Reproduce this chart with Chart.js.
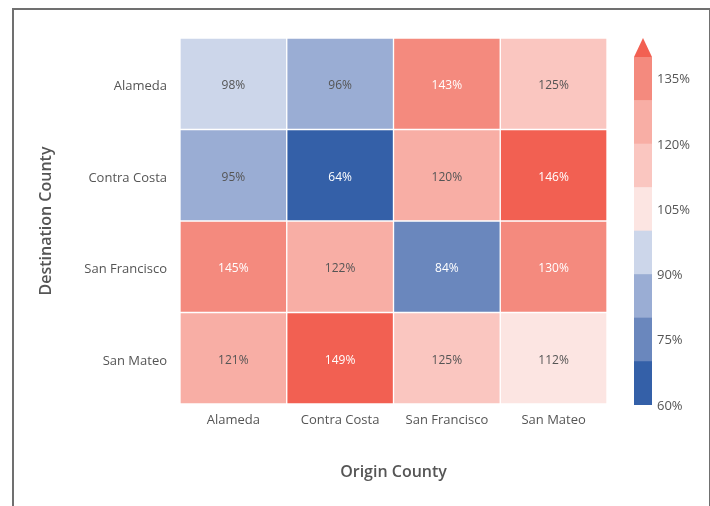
<!DOCTYPE html>
<html>
<head>
<meta charset="utf-8">
<script src="https://cdn.jsdelivr.net/npm/chart.js@4"></script>
<style>
  body { margin: 0; background: #fff; }
  #wrap { position: relative; width: 710px; height: 506px; overflow: hidden; }
  #heat { position: absolute; left: 0; top: 0; }
  #scale { position: absolute; left: 620px; top: 0; }
  #frame { position: absolute; left: 12px; top: 8px; width: 695px; height: 520px;
           border: 2px solid #707070; pointer-events: none; }
</style>
</head>
<body>
<div id="wrap">
  <canvas id="heat" width="710" height="506"></canvas>
  <canvas id="scale" width="90" height="506"></canvas>
  <div id="frame"></div>
</div>
<script>
// origin counties across, destination counties down
const origins = ['Alameda', 'Contra Costa', 'San Francisco', 'San Mateo'];
const destinations = ['Alameda', 'Contra Costa', 'San Francisco', 'San Mateo'];

// trip ratio (%) per destination row
const values = [
  [98, 96, 143, 125],
  [95, 64, 120, 146],
  [145, 122, 84, 130],
  [121, 149, 125, 112]
];

// colour class of each cell (index into palette)
const cellBins = [
  [3, 2, 7, 5],
  [2, 0, 6, 8],
  [7, 6, 1, 7],
  [6, 8, 5, 4]
];

// legend bins, last colour is the "above 140" extension
const binEdges = [60, 70, 80, 90, 100, 110, 120, 130, 140];
const palette = ['#3460a8', '#6a87bd', '#9aadd4', '#ccd6ea', '#fce5e2',
                 '#fac6c0', '#f8aea5', '#f48a7e', '#f26052'];
const legendTicks = [60, 75, 90, 105, 120, 135];

const darkBins = [0, 1, 7, 8];
const textGrey = '#555';
const baseFont = 'Open Sans';

const cellLabels = {
  id: 'cellLabels',
  afterDatasetsDraw(chart) {
    const ctx = chart.ctx;
    ctx.save();
    ctx.font = '12px "' + baseFont + '"';
    ctx.textAlign = 'center';
    ctx.textBaseline = 'middle';
    chart.data.datasets.forEach((ds, r) => {
      chart.getDatasetMeta(r).data.forEach((bar, c) => {
        ctx.fillStyle = darkBins.includes(cellBins[r][c]) ? '#fff' : textGrey;
        ctx.fillText(values[r][c] + '%', bar.x, (bar.y + bar.base) / 2 + 2);
      });
    });
    ctx.restore();
  }
};

new Chart(document.getElementById('heat'), {
  type: 'bar',
  data: {
    labels: origins,
    datasets: destinations.map((d, r) => ({
      label: d,
      data: origins.map(() => [r, r + 1]),
      backgroundColor: cellBins[r].map(b => palette[b]),
      borderColor: '#fff',
      borderWidth: 1,
      borderSkipped: false,
      grouped: false,
      barPercentage: 1,
      categoryPercentage: 1
    }))
  },
  options: {
    responsive: false,
    animation: false,
    devicePixelRatio: 1,
    layout: { padding: { top: 38, right: 103, left: 0, bottom: 0 } },
    plugins: { legend: { display: false }, tooltip: { enabled: false } },
    scales: {
      x: {
        grid: { display: false, drawTicks: false },
        border: { display: false },
        ticks: { color: textGrey, padding: 8, font: { family: baseFont, size: 13 } },
        title: {
          display: true, text: 'Origin County', color: textGrey,
          font: { family: baseFont, size: 16, weight: '600' },
          padding: { top: 0, bottom: 24 }
        },
        afterFit: s => { s.height = 102; }
      },
      y: {
        type: 'linear',
        min: 0,
        max: 4,
        reverse: true,
        grid: { display: false, drawTicks: false },
        border: { display: false },
        afterBuildTicks: s => { s.ticks = destinations.map((d, i) => ({ value: i + 0.5 })); },
        ticks: {
          color: textGrey, padding: 13, labelOffset: 3, font: { family: baseFont, size: 13 },
          callback: v => destinations[Math.floor(v)]
        },
        title: {
          display: true, text: 'Destination County', color: textGrey,
          font: { family: baseFont, size: 16, weight: '600' },
          padding: { top: 37, bottom: 0 }
        },
        afterFit: s => { s.width = 180; }
      }
    }
  },
  plugins: [cellLabels]
});

// colour legend with a triangle on top for values above the last bin
const extendArrow = {
  id: 'extendArrow',
  afterDatasetsDraw(chart) {
    const { ctx, chartArea } = chart;
    const y = chart.scales.y;
    const base = y.getPixelForValue(binEdges[binEdges.length - 1]);
    const w = chartArea.right - chartArea.left;
    ctx.save();
    ctx.fillStyle = palette[palette.length - 1];
    ctx.beginPath();
    ctx.moveTo(chartArea.left, base);
    ctx.lineTo(chartArea.right, base);
    ctx.lineTo((chartArea.left + chartArea.right) / 2, base - w * 1.05);
    ctx.closePath();
    ctx.fill();
    ctx.restore();
  }
};

new Chart(document.getElementById('scale'), {
  type: 'bar',
  data: {
    labels: [''],
    datasets: binEdges.slice(0, -1).map((lo, i) => ({
      data: [[lo, binEdges[i + 1]]],
      backgroundColor: palette[i],
      borderWidth: 0,
      grouped: false,
      barPercentage: 1,
      categoryPercentage: 1
    }))
  },
  options: {
    responsive: false,
    animation: false,
    devicePixelRatio: 1,
    layout: { padding: { top: 57, left: 14, bottom: 101, right: 0 } },
    plugins: { legend: { display: false }, tooltip: { enabled: false } },
    scales: {
      x: { display: false },
      y: {
        position: 'right',
        min: binEdges[0],
        max: binEdges[binEdges.length - 1],
        grid: { display: false, drawTicks: false },
        border: { display: false },
        afterBuildTicks: s => { s.ticks = legendTicks.map(v => ({ value: v })); },
        ticks: {
          color: textGrey, padding: 5, labelOffset: 1, font: { family: baseFont, size: 13 },
          callback: v => v + '%'
        },
        afterFit: s => { s.width = 58; }
      }
    }
  },
  plugins: [extendArrow]
});
</script>
</body>
</html>
